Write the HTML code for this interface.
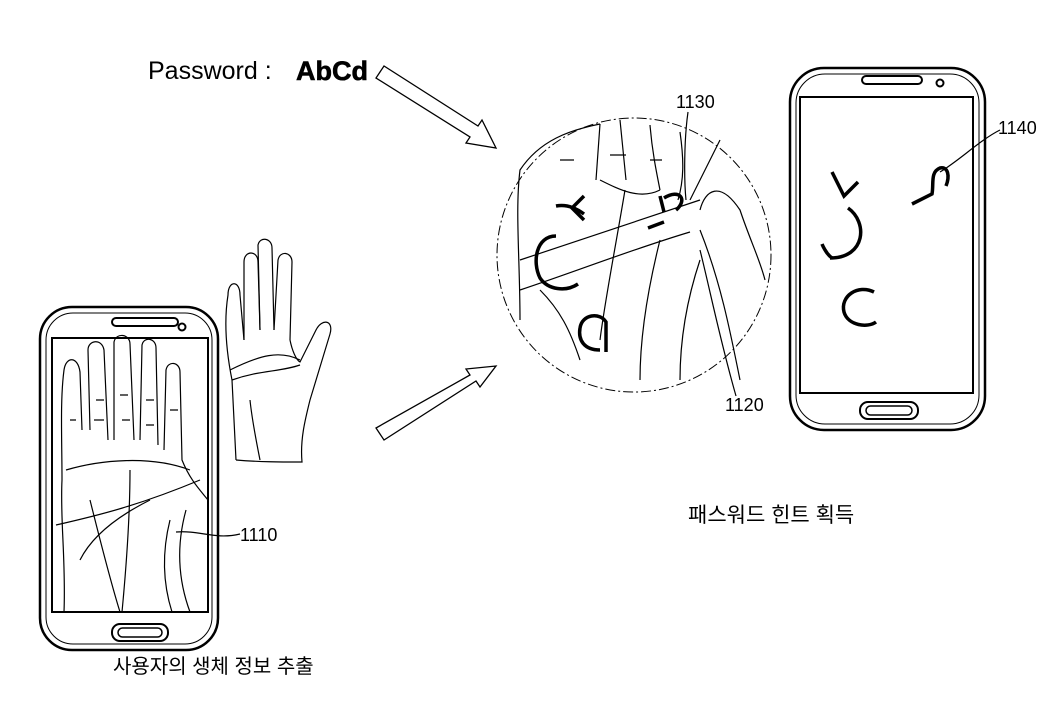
<!DOCTYPE html>
<html><head><meta charset="utf-8"><style>
html,body{margin:0;padding:0;background:#fff;}
svg{display:block}
text{font-family:"Liberation Sans","Noto Sans CJK KR",sans-serif;fill:#000}
</style></head><body>
<svg width="1061" height="708" viewBox="0 0 1061 708" xmlns="http://www.w3.org/2000/svg">
<g fill="none" stroke="#000" stroke-width="1.5">
<polygon points="380,72 384,66 478,126 482,120 496,148 466,143 470,137 376,78" stroke-width="1.3"/>
<polygon points="380,434 384,440 476,381 480,387 496,366 466,369 470,375 376,428" stroke-width="1.3"/>
<circle cx="634" cy="255" r="137" stroke-dasharray="10,3,2,3" stroke-width="1"/>
<rect x="40" y="307" width="178" height="343" rx="32" stroke-width="2.5"/>
<rect x="46" y="313" width="166" height="331" rx="27" stroke-width="1"/>
<rect x="52" y="338" width="156" height="274" stroke-width="2"/>
<rect x="112" y="318" width="66" height="8" rx="4" stroke-width="2"/>
<circle cx="182" cy="327" r="3.5" stroke-width="2"/>
<rect x="112" y="624" width="56" height="17" rx="8" stroke-width="2"/>
<rect x="118" y="628" width="44" height="9" rx="4.5" stroke-width="1.5"/>
<g stroke-width="1.2">
<path d="M64,612 C66,560 60,520 62,480 C62,440 60,400 64,370 C66,356 78,356 80,372 L82,430"/>
<path d="M90,430 L88,350 C88,340 102,338 104,350 L108,440"/>
<path d="M114,440 L114,342 C116,332 130,334 130,344 L134,440"/>
<path d="M140,440 L142,345 C144,336 156,338 156,348 L158,445"/>
<path d="M164,450 L166,370 C168,360 180,362 180,372 L182,460 C190,480 200,490 208,500"/>
<path d="M66,470 C100,460 150,455 190,470"/>
<path d="M56,525 C100,515 140,505 200,480"/>
<path d="M90,500 C100,540 110,580 120,612"/>
<path d="M130,470 C130,520 126,570 122,612"/>
<path d="M170,520 C160,560 165,590 172,612"/>
<path d="M186,510 C175,550 180,585 190,612"/>
<path d="M80,560 C90,540 110,520 150,500"/>
<path d="M96,400 h8 M94,420 h10 M120,395 h8 M122,420 h8 M146,400 h8 M146,425 h8 M170,410 h8 M70,420 h6"/>
</g>
<path d="M176,532 C200,530 215,540 240,534" stroke-width="1.2"/>
<g stroke-width="1.2">
<path d="M236,460 L232,380 C226,350 224,320 228,295 C228,280 240,280 240,295 L244,340"/>
<path d="M244,340 L244,262 C244,250 258,250 258,262 L260,330"/>
<path d="M260,330 L258,245 C260,236 272,238 272,248 L274,330"/>
<path d="M274,330 L278,260 C280,250 292,252 292,262 L290,340"/>
<path d="M290,340 C292,350 296,360 300,362 L316,330 C322,318 334,320 330,334 L310,400 C305,420 300,440 302,462 C280,462 260,462 236,460"/>
<path d="M230,370 C260,355 280,350 300,360"/>
<path d="M232,380 C260,370 280,372 300,365"/>
<path d="M250,400 C252,420 256,440 260,460"/>
</g>
<rect x="790" y="68" width="195" height="362" rx="34" stroke-width="2.5"/>
<rect x="796" y="74" width="183" height="350" rx="29" stroke-width="1"/>
<rect x="800" y="97" width="173" height="296" stroke-width="2"/>
<rect x="862" y="76" width="60" height="8" rx="4" stroke-width="2"/>
<circle cx="940" cy="83" r="3.5" stroke-width="2"/>
<rect x="860" y="402" width="58" height="17" rx="8" stroke-width="2"/>
<rect x="866" y="406" width="46" height="9" rx="4.5" stroke-width="1.5"/>
<g stroke-width="3.5">
<path d="M832,172 L844,196 L858,182"/>
<path d="M848,208 C868,222 866,258 830,258"/>
<path d="M822,244 C822,244 826,254 832,258"/>
<path d="M874,292 C858,284 840,296 844,312 C848,326 868,328 876,322"/>
<path d="M912,204 L932,194 C934,184 930,172 940,168 C948,166 950,176 946,186"/>
</g>
<path d="M940,172 C960,160 980,140 1000,130" stroke-width="1.2"/>
<g stroke-width="1.2">
<path d="M520,320 C520,260 515,210 520,170 C540,140 570,130 600,124"/>
<path d="M600,124 L596,180 M620,120 L626,180 M650,125 C652,150 656,170 660,190 M680,132 C684,160 684,180 678,200"/>
<path d="M520,260 C580,240 640,220 700,200"/>
<path d="M520,290 C580,270 630,250 690,232"/>
<path d="M540,290 C560,310 570,330 580,360"/>
<path d="M600,340 C605,300 615,250 625,190"/>
<path d="M640,380 C640,330 650,280 660,240"/>
<path d="M680,380 C680,330 690,290 700,260"/>
<path d="M700,230 C720,280 730,330 740,380"/>
<path d="M700,210 C705,190 720,180 740,210 C750,240 760,260 765,280"/>
<path d="M600,180 C620,190 640,200 660,190"/>
<path d="M610,155 h16 M650,160 h12 M560,160 h14"/>
<path d="M690,200 C700,180 710,160 720,140"/>
</g>
<g stroke-width="3.5">
<path d="M584,196 L572,208 L584,220 M556,206 C566,204 576,208 584,214"/>
<path d="M556,236 C536,236 532,262 540,278 C548,290 566,292 578,284"/>
<path d="M600,350 C584,350 578,340 580,328 C582,314 600,312 606,322 L606,352"/>
<path d="M660,196 L664,212 M664,198 C680,188 688,200 676,210 M648,228 L664,222"/>
</g>
<path d="M688,112 C684,140 684,180 686,200" stroke-width="1.2"/>
<path d="M700,250 C710,290 720,340 736,396" stroke-width="1.2"/>
</g>
<text x="148" y="79" font-size="25">Password :</text>
<text x="296" y="80" font-size="27" font-weight="bold" stroke="#000" stroke-width="0.6">AbCd</text>
<text x="676" y="108" font-size="18">1130</text>
<text x="998" y="134" font-size="18">1140</text>
<text x="725" y="411" font-size="18">1120</text>
<text x="240" y="541" font-size="18">1110</text>
<text x="113" y="673" font-size="20">사용자의 생체 정보 추출</text>
<text x="688" y="522" font-size="21">패스워드 힌트 획득</text>
</svg>
</body></html>
